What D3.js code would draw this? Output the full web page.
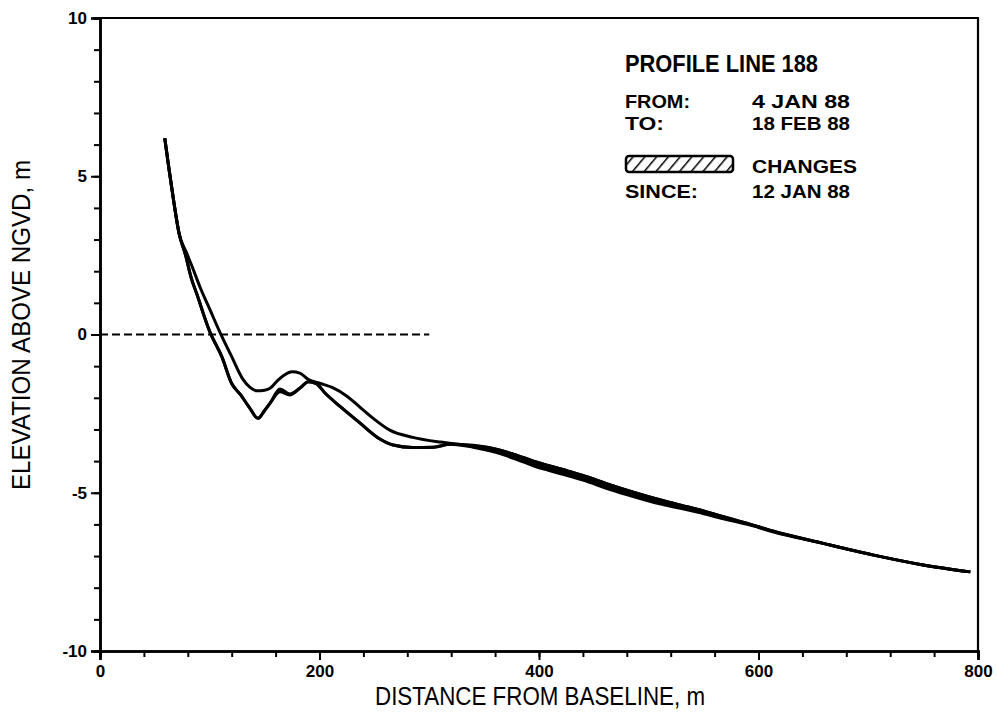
<!DOCTYPE html>
<html><head><meta charset="utf-8">
<script src="https://cdn.jsdelivr.net/npm/d3@7"></script>
<style>
html,body{margin:0;padding:0;background:#fff;}
svg text{font-family:"Liberation Sans Narrow","Liberation Sans",Arial,sans-serif;fill:#000;}
</style></head>
<body>
<svg id="chart" width="997" height="717"></svg>
<script>
// ---- data ----
const xTicks = [0, 200, 400, 600, 800];
const yTicks = [-10, -5, 0, 5, 10];
const xTitle = "DISTANCE FROM BASELINE, m";
const yTitle = "ELEVATION ABOVE NGVD, m";
const legendTitle = "PROFILE LINE 188";
const legendRows = [["FROM:", "4 JAN 88"], ["TO:", "18 FEB 88"]];
const changesLabel = ["CHANGES", "SINCE:", "12 JAN 88"];

// profile of 4 Jan 88
const jan4Dist = [59,63,67,72,79,84,91,100,109,120,130,137,143,150,155,162,168,175,182,190,200,212,225,237,249,264,285,310,330,358,380,395,420,440,465,486,510,530,545,568,590,613,659,705,750,793];
const jan4Elev = [6.2,5.2,4.25,3.2,2.57,2.14,1.51,0.8,0.09,-0.7,-1.4,-1.68,-1.78,-1.76,-1.7,-1.45,-1.28,-1.18,-1.22,-1.42,-1.54,-1.68,-1.95,-2.3,-2.65,-3.02,-3.25,-3.4,-3.48,-3.6,-3.82,-4.0,-4.25,-4.45,-4.75,-4.98,-5.22,-5.4,-5.53,-5.76,-5.97,-6.21,-6.6,-6.97,-7.28,-7.5];

// profiles of 12 Jan 88 and 18 Feb 88 (shared distances)
const dist = [59,63,67,72,78,83,88,100,111,120,128,136,144,150,155,164,173,182,190,197,205,219,237,255,267,285,304,319,340,358,380,395,420,440,465,486,510,530,545,568,590,613,659,705,750,793];
const jan12Elev = [6.2,5.2,4.25,3.2,2.5,1.8,1.3,0.09,-0.7,-1.55,-1.9,-2.3,-2.65,-2.4,-2.17,-1.72,-1.88,-1.7,-1.49,-1.55,-1.85,-2.28,-2.8,-3.3,-3.49,-3.57,-3.56,-3.47,-3.5,-3.6,-3.82,-4.0,-4.25,-4.45,-4.75,-4.98,-5.22,-5.4,-5.53,-5.76,-5.97,-6.21,-6.6,-6.97,-7.28,-7.5];
const feb18Elev = [6.2,5.2,4.25,3.2,2.5,1.8,1.3,0.09,-0.7,-1.55,-1.9,-2.3,-2.65,-2.4,-2.17,-1.81,-1.91,-1.7,-1.49,-1.55,-1.85,-2.28,-2.8,-3.3,-3.49,-3.57,-3.56,-3.47,-3.56,-3.7,-3.95,-4.15,-4.4,-4.6,-4.9,-5.12,-5.35,-5.5,-5.62,-5.82,-6.0,-6.23,-6.6,-6.97,-7.28,-7.5];

const zeroLine = [[0, 0], [300, 0]];

// ---- layout ----
const svg = d3.select("#chart");
const L = 100, R = 978, T = 18, B = 651;
const x = d3.scaleLinear().domain([0, 800]).range([L, R]);
const y = d3.scaleLinear().domain([-10, 10]).range([B, T]);

// frame (top & right)
svg.append("path").attr("d", `M${L},${T}H${R}V${B}`).attr("fill","none").attr("stroke","#000").attr("stroke-width",2.2);

// x axis
const xAxisMinor = d3.axisBottom(x).tickValues(d3.range(0, 801, 40)).tickSize(6).tickFormat("");
const gxm = svg.append("g").attr("transform", `translate(0,${B})`).call(xAxisMinor);
const xAxis = d3.axisBottom(x).tickValues(xTicks).tickSize(9).tickPadding(5).tickFormat(d3.format("d"));
const gx = svg.append("g").attr("transform", `translate(0,${B})`).call(xAxis);
// y axis
const yAxisMinor = d3.axisLeft(y).tickValues(d3.range(-10, 11, 1)).tickSize(6).tickFormat("");
const gym = svg.append("g").attr("transform", `translate(${L},0)`).call(yAxisMinor);
const yAxis = d3.axisLeft(y).tickValues(yTicks).tickSize(9).tickPadding(4).tickFormat(d => d < 0 ? "-" + Math.abs(d) : String(d));
const gy = svg.append("g").attr("transform", `translate(${L},0)`).call(yAxis);

[gxm, gx, gym, gy].forEach(g => {
  g.select(".domain").attr("stroke","#000").attr("stroke-width",2.6);
  g.selectAll(".tick line").attr("stroke","#000").attr("stroke-width",2);
});
[gx, gy].forEach(g => g.selectAll(".tick text").attr("font-size",17).attr("font-weight","bold")
  .style("font-family","'Liberation Sans Narrow','Liberation Sans',sans-serif"));

// axis titles
svg.append("text").attr("x", 540).attr("y", 705).attr("text-anchor","middle")
  .attr("font-size",25).attr("textLength",330).attr("lengthAdjust","spacingAndGlyphs").text(xTitle);
svg.append("text").attr("transform","translate(30,325) rotate(-90)").attr("text-anchor","middle")
  .attr("font-size",25).attr("textLength",330).attr("lengthAdjust","spacingAndGlyphs").text(yTitle);

// zero dashed line
svg.append("path").datum(zeroLine)
  .attr("d", d3.line().x(d => x(d[0])).y(d => y(d[1])))
  .attr("stroke","#000").attr("stroke-width",2).attr("stroke-dasharray","8,4").attr("fill","none");

// change area between 12 Jan and 18 Feb
const pts = dist.map((d,i) => ({d, a: jan12Elev[i], b: feb18Elev[i]}));
svg.append("path").datum(pts)
  .attr("d", d3.area().curve(d3.curveMonotoneX).x(p => x(p.d)).y0(p => y(p.b)).y1(p => y(p.a)))
  .attr("fill","#000").attr("stroke","none");

const lineGen = d3.line().curve(d3.curveMonotoneX).x(p => x(p[0])).y(p => y(p[1]));
const series = [
  d3.zip(jan4Dist, jan4Elev),
  d3.zip(dist, jan12Elev),
  d3.zip(dist, feb18Elev)
];
svg.selectAll("path.profile").data(series).join("path").attr("class","profile")
  .attr("d", lineGen).attr("fill","none").attr("stroke","#000").attr("stroke-width",3).attr("stroke-linejoin","round");

// legend
const lg = svg.append("g");
lg.append("text").attr("x",625).attr("y",72).attr("font-size",23).attr("font-weight","bold")
  .attr("textLength",193).attr("lengthAdjust","spacingAndGlyphs").text(legendTitle);
legendRows.forEach((r,i) => {
  const yy = 108 + i*22;
  lg.append("text").attr("x",625).attr("y",yy).attr("font-size",18).attr("font-weight","bold")
    .attr("textLength", r[0].length*13).attr("lengthAdjust","spacingAndGlyphs").text(r[0]);
  lg.append("text").attr("x",752).attr("y",yy).attr("font-size",18).attr("font-weight","bold")
    .attr("textLength", 98).attr("lengthAdjust","spacingAndGlyphs").text(r[1]);
});
const defs = svg.append("defs");
const pat = defs.append("pattern").attr("id","hatch").attr("patternUnits","userSpaceOnUse")
  .attr("width",9).attr("height",9).attr("patternTransform","rotate(40)");
pat.append("rect").attr("width",9).attr("height",9).attr("fill","#fff");
pat.append("line").attr("x1",0).attr("y1",0).attr("x2",0).attr("y2",9).attr("stroke","#000").attr("stroke-width",3);
lg.append("rect").attr("x",626).attr("y",156).attr("width",107).attr("height",16).attr("rx",3)
  .attr("fill","url(#hatch)").attr("stroke","#000").attr("stroke-width",2.5);
lg.append("text").attr("x",752).attr("y",173).attr("font-size",18).attr("font-weight","bold")
  .attr("textLength",105).attr("lengthAdjust","spacingAndGlyphs").text(changesLabel[0]);
lg.append("text").attr("x",625).attr("y",198).attr("font-size",18).attr("font-weight","bold")
  .attr("textLength",73).attr("lengthAdjust","spacingAndGlyphs").text(changesLabel[1]);
lg.append("text").attr("x",752).attr("y",198).attr("font-size",18).attr("font-weight","bold")
  .attr("textLength",98).attr("lengthAdjust","spacingAndGlyphs").text(changesLabel[2]);
</script>
</body></html>
